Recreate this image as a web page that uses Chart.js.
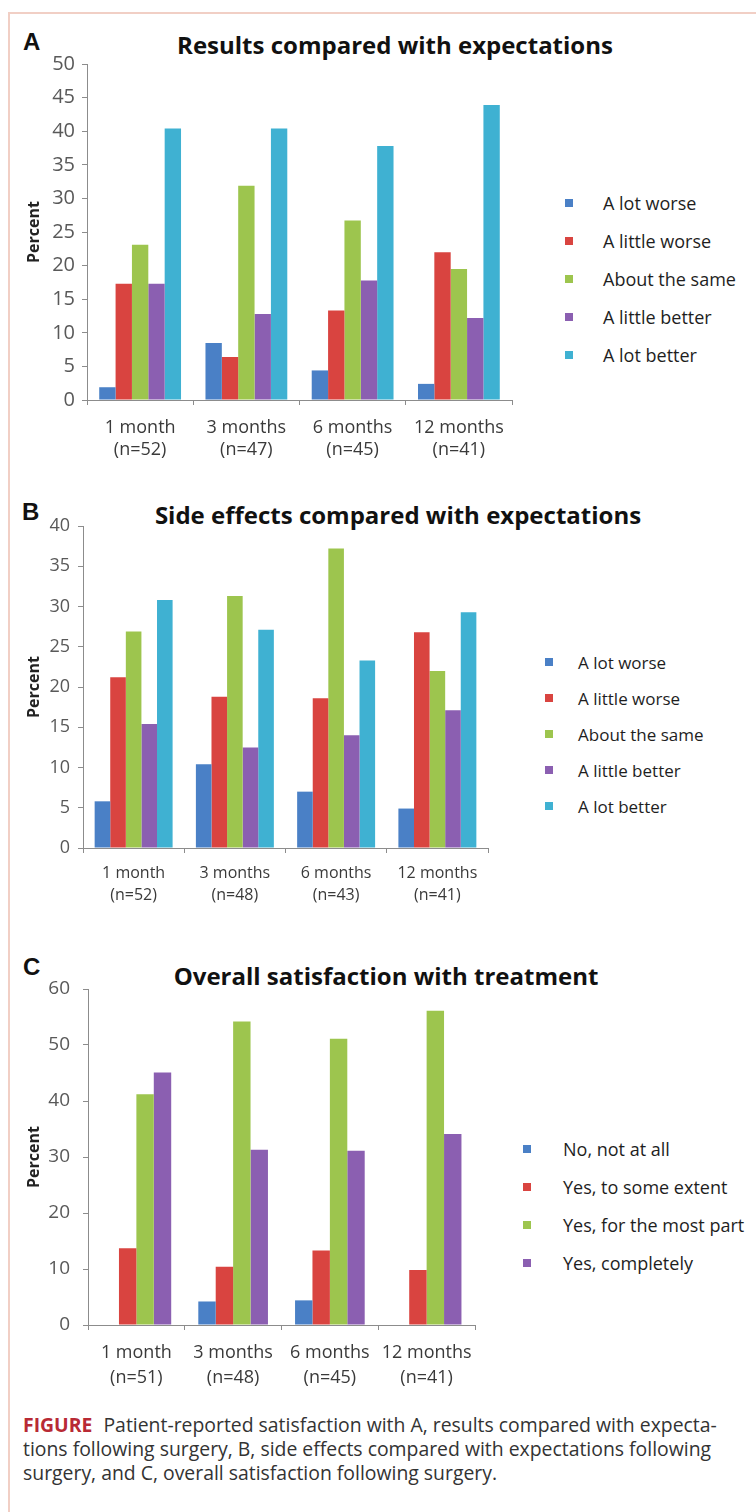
<!DOCTYPE html>
<html lang="en">

<head>
    <meta charset="UTF-8">
    <title>Patient-reported satisfaction</title>
    <script src="https://cdn.jsdelivr.net/npm/chart.js"></script>
    <style>
        body { margin: 0; width: 756px; height: 1512px; position: relative; overflow: hidden; background: #fff; font-family: "Open Sans", sans-serif; }
        .frame { position: absolute; left: 8px; top: 12px; width: 800px; height: 1600px; border: 2px solid #f1cfc5; }
        .letter { position: absolute; font: bold 24px/24px "Liberation Sans", Arial, sans-serif; color: #111; }
        .title { position: absolute; font-weight: bold; font-size: 24px; line-height: 30px; color: #111; white-space: nowrap; transform: translateX(-50%); }
        canvas { position: absolute; left: 0; }
        .legend { position: absolute; color: #1e1e1e; }
        .legend div { display: flex; align-items: center; white-space: nowrap; }
        .legend span { display: inline-block; width: 8px; height: 8px; }
        .caption { position: absolute; left: 23px; top: 1413px; font-size: 19.4px; line-height: 24px; color: #333; white-space: nowrap; }
        .caption b { color: #b82a35; margin-right: 6px; }
    </style>
</head>

<body>
    <div class="frame"></div>

    <div class="letter" style="left: 23px; top: 30px;">A</div>
    <div class="title" style="left: 395px; top: 30px;">Results compared with expectations</div>
    <canvas id="chartA" width="530" height="430" style="top: 40px;"></canvas>
    <div class="legend" id="legendA" style="left: 565px; top: 184px; font-size: 18px;"></div>

    <div class="letter" style="left: 22px; top: 500px;">B</div>
    <div class="title" style="left: 398px; top: 500px;">Side effects compared with expectations</div>
    <canvas id="chartB" width="506" height="418" style="top: 500px;"></canvas>
    <div class="legend" id="legendB" style="left: 545px; top: 644px; font-size: 17px;"></div>

    <div class="letter" style="left: 23px; top: 955px;">C</div>
    <div class="title" style="left: 386px; top: 961px;">Overall satisfaction with treatment</div>
    <canvas id="chartC" width="493" height="435" style="top: 960px;"></canvas>
    <div class="legend" id="legendC" style="left: 523px; top: 1130px; font-size: 18px;"></div>

    <div class="caption"><b>FIGURE</b> Patient-reported satisfaction with A, results compared with expecta-<br>tions following surgery, B, side effects compared with expectations following<br>surgery, and C, overall satisfaction following surgery.</div>

    <script>
        // categories
        const months = ['1 month', '3 months', '6 months', '12 months'];
        const nResults = ['(n=52)', '(n=47)', '(n=45)', '(n=41)'];
        const nSideEffects = ['(n=52)', '(n=48)', '(n=43)', '(n=41)'];
        const nOverall = ['(n=51)', '(n=48)', '(n=45)', '(n=41)'];

        const expectationNames = ['A lot worse', 'A little worse', 'About the same', 'A little better', 'A lot better'];
        const satisfactionNames = ['No, not at all', 'Yes, to some extent', 'Yes, for the most part', 'Yes, completely'];

        // A - results compared with expectations (percent)
        const resLotWorse = [1.9, 8.5, 4.4, 2.4];
        const resLittleWorse = [17.3, 6.4, 13.3, 22.0];
        const resSame = [23.1, 31.9, 26.7, 19.5];
        const resLittleBetter = [17.3, 12.8, 17.8, 12.2];
        const resLotBetter = [40.4, 40.4, 37.8, 43.9];

        // B - side effects compared with expectations (percent)
        const sideLotWorse = [5.8, 10.4, 7.0, 4.9];
        const sideLittleWorse = [21.2, 18.8, 18.6, 26.8];
        const sideSame = [26.9, 31.3, 37.2, 22.0];
        const sideLittleBetter = [15.4, 12.5, 14.0, 17.1];
        const sideLotBetter = [30.8, 27.1, 23.3, 29.3];

        // C - overall satisfaction (percent)
        const satNotAtAll = [0, 4.2, 4.4, 0];
        const satSomeExtent = [13.7, 10.4, 13.3, 9.8];
        const satMostPart = [41.2, 54.2, 51.1, 56.1];
        const satCompletely = [45.1, 31.3, 31.1, 34.1];

        // y tick labels
        const ticksA = [0, 5, 10, 15, 20, 25, 30, 35, 40, 45, 50];
        const ticksB = [0, 5, 10, 15, 20, 25, 30, 35, 40];
        const ticksC = [0, 10, 20, 30, 40, 50, 60];

        const barColors = ['#4a80c6', '#d94440', '#9dc54e', '#8b5fb1', '#3fb1d2'];
        const axisColor = '#8c8c8c';
        const family = '"Open Sans", sans-serif';

        function drawPanel(id, legendId, labels, names, series, ticks, o) {
            const chart = new Chart(document.getElementById(id), {
                type: 'bar',
                data: {
                    labels: labels,
                    datasets: series.map((values, i) => ({
                        label: names[i],
                        data: values,
                        backgroundColor: barColors[i],
                        barPercentage: 1,
                        categoryPercentage: o.group
                    }))
                },
                options: {
                    responsive: false,
                    animation: false,
                    layout: { padding: { top: o.top, right: 18, bottom: 0, left: 0 } },
                    plugins: { legend: { display: false }, tooltip: { enabled: false } },
                    scales: {
                        x: {
                            grid: { drawOnChartArea: false, tickLength: 5, color: axisColor },
                            border: { color: axisColor },
                            ticks: {
                                color: '#3a3a3a', maxRotation: 0, autoSkip: false, padding: o.xPad,
                                font: { family: family, size: o.font, lineHeight: o.lineH / o.font }
                            },
                            afterFit: (s) => { s.height = 70; }
                        },
                        y: {
                            min: ticks[0],
                            max: ticks[ticks.length - 1],
                            grid: { drawOnChartArea: false, tickLength: 5, color: axisColor },
                            border: { color: axisColor },
                            ticks: {
                                stepSize: ticks[1] - ticks[0], color: '#595959', padding: o.yPad,
                                font: { family: family, size: o.yFont }
                            },
                            title: {
                                display: true, text: 'Percent', color: '#222',
                                font: { family: family, size: 16, weight: 'bold' },
                                padding: { top: 25, bottom: 0 }
                            },
                            afterFit: (s) => { s.width = o.left; }
                        }
                    }
                }
            });

            // legend built from the chart's own legend items
            const box = document.getElementById(legendId);
            chart.options.plugins.legend.labels.generateLabels(chart).forEach((item) => {
                const row = document.createElement('div');
                row.style.height = o.legendStep + 'px';
                const sq = document.createElement('span');
                sq.style.background = item.fillStyle;
                sq.style.marginRight = o.legendGap + 'px';
                row.appendChild(sq);
                row.appendChild(document.createTextNode(item.text));
                box.appendChild(row);
            });
        }

        const withN = (ns) => months.map((m, i) => [m, ns[i]]);

        drawPanel('chartA', 'legendA', withN(nResults), expectationNames,
            [resLotWorse, resLittleWorse, resSame, resLittleBetter, resLotBetter], ticksA,
            { group: 0.77, top: 24, left: 87, xPad: 12, yPad: 7, font: 18, yFont: 20, lineH: 22, legendStep: 38, legendGap: 30 });

        drawPanel('chartB', 'legendB', withN(nSideEffects), expectationNames,
            [sideLotWorse, sideLittleWorse, sideSame, sideLittleBetter, sideLotBetter], ticksB,
            { group: 0.77, top: 26, left: 83, xPad: 9, yPad: 8, font: 16, yFont: 18, lineH: 22, legendStep: 36, legendGap: 25 });

        drawPanel('chartC', 'legendC', withN(nOverall), satisfactionNames,
            [satNotAtAll, satSomeExtent, satMostPart, satCompletely], ticksC,
            { group: 0.72, top: 29, left: 88, xPad: 10, yPad: 13, font: 18, yFont: 19, lineH: 25, legendStep: 38, legendGap: 32 });
    </script>
</body>

</html>
